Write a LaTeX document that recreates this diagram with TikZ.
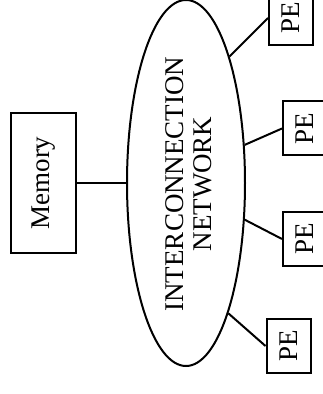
\documentclass[tikz,border=0pt]{standalone}
\usepackage{fontspec}
\usepackage{graphicx}
\setmainfont{Liberation Serif}
\usetikzlibrary{shapes.geometric}
\begin{document}
\begin{tikzpicture}[x=1pt,y=1pt,
  line width=2pt,
  txt/.style={font=\fontsize{27}{28.5}\selectfont},
  pebox/.style={draw, txt, inner sep=0pt, minimum width=44pt, minimum height=54pt},
  membox/.style={draw, txt, inner sep=0pt, minimum width=65pt, minimum height=140pt},
  netshape/.style={draw, ellipse, inner sep=0pt, minimum width=118pt, minimum height=366pt}]
  \useasboundingbox (0,0) rectangle (323,394);
  \clip (0,0) rectangle (323,394);

  % central network and its label
  \node[netshape] (net) at (186,211) {};
  \node[txt, rotate=90, align=center] (netlabel) at (189,210) {INTERCONNECTION\\NETWORK};

  % memory on the left
  \node[membox] (mem) at (43.5,211) {\rotatebox{90}{Memory}};

  % processing elements on the right
  \node[pebox] (pe1) at (291,376) {\rotatebox{90}{PE}};
  \node[pebox] (pe2) at (305,265.5) {\rotatebox{90}{PE}};
  \node[pebox] (pe3) at (305,155) {\rotatebox{90}{PE}};
  \node[pebox] (pe4) at (288.5,48) {\rotatebox{90}{PE}};

  % links
  \draw (mem.east) -- (net.west);
  \draw (net.71) -- (pe1.west);
  \draw (net.33.5) -- (pe2.west);
  \draw (net.-32) -- (pe3.west);
  \draw (net.-72) -- (pe4.west);
\end{tikzpicture}
\end{document}
